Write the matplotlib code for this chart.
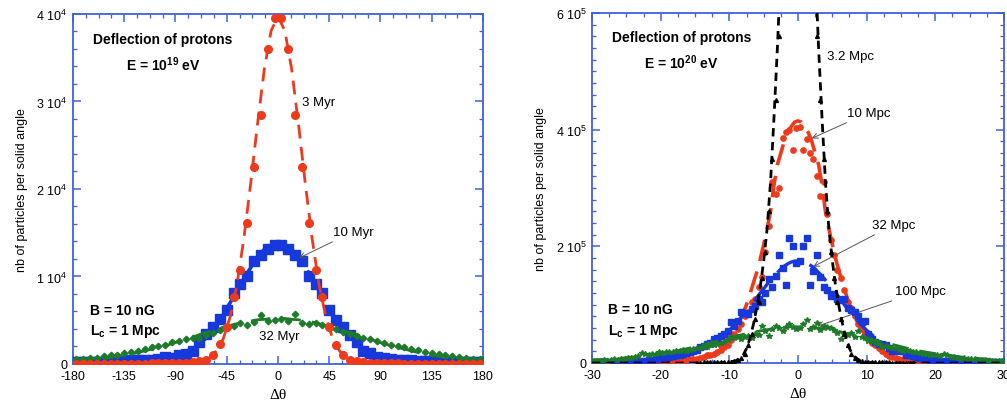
import numpy as np
import matplotlib
matplotlib.use("Agg")
import matplotlib.pyplot as plt
from matplotlib.ticker import MultipleLocator, FixedLocator, FixedFormatter

plt.rcParams['font.family'] = ['Liberation Sans', 'DejaVu Sans']
plt.rcParams['mathtext.fontset'] = 'custom'
plt.rcParams['mathtext.rm'] = 'Liberation Sans'
plt.rcParams['mathtext.bf'] = 'Liberation Sans:bold'
plt.rcParams['axes.unicode_minus'] = False

# ==========================================
# Left panel data: E = 1e19 eV, bins of 6 degrees (units of 1e4)
# ==========================================
bins_left = np.arange(-177, 180, 6)

red_3myr = [0, 0, 0, 0, 0, 0, 0, 0, 0, 0,
            0.005, 0.01, 0.01, 0.01, 0.01, 0.01, 0.01, 0.02, 0.03, 0.05,
            0.10, 0.23, 0.42, 0.77, 1.07, 1.61, 2.25, 2.84, 3.60, 3.95,
            3.95, 3.60, 2.84, 2.25, 1.61, 1.07, 0.77, 0.42, 0.22, 0.10,
            0.05, 0.03, 0.02, 0.01, 0.01, 0.01, 0.01, 0.01, 0.005, 0.005,
            0, 0, 0, 0, 0, 0, 0, 0, 0, 0]
blue_10myr = [0.02, 0.02, 0.02, 0.02, 0.02, 0.03, 0.03, 0.03, 0.04, 0.04,
              0.05, 0.05, 0.06, 0.08, 0.07, 0.10, 0.11, 0.15, 0.25, 0.34,
              0.42, 0.51, 0.62, 0.81, 0.91, 1.01, 1.18, 1.25, 1.31, 1.36,
              1.36, 1.31, 1.24, 1.18, 1.01, 0.91, 0.81, 0.62, 0.50, 0.42,
              0.33, 0.25, 0.15, 0.13, 0.08, 0.07, 0.06, 0.05, 0.04, 0.04,
              0.03, 0.03, 0.03, 0.02, 0.02, 0.02, 0.02, 0.02, 0.02, 0.02]
green_32myr = [0.06, 0.06, 0.07, 0.07, 0.09, 0.10, 0.10, 0.12, 0.14, 0.15,
               0.17, 0.19, 0.20, 0.22, 0.25, 0.26, 0.28, 0.30, 0.30, 0.33,
               0.35, 0.39, 0.41, 0.43, 0.47, 0.45, 0.48, 0.56, 0.49, 0.50,
               0.51, 0.49, 0.57, 0.47, 0.46, 0.47, 0.45, 0.42, 0.40, 0.37,
               0.34, 0.32, 0.30, 0.28, 0.26, 0.24, 0.22, 0.21, 0.19, 0.17,
               0.16, 0.14, 0.12, 0.11, 0.10, 0.09, 0.08, 0.07, 0.06, 0.06]

# fitted curves, half profile (symmetric)
fit_x_left = [0, 6, 12, 18, 24, 30, 36, 42, 48, 54, 60, 66, 72, 78, 84,
              96, 108, 120, 135, 150, 165, 180]
fit_red_left = [3.97, 3.81, 3.37, 2.74, 2.06, 1.43, 0.91, 0.54, 0.29, 0.15,
                0.07, 0.03, 0.01, 0.005, 0, 0, 0, 0, 0, 0, 0, 0]
fit_blue_left = [1.38, 1.36, 1.31, 1.22, 1.10, 0.98, 0.84, 0.70, 0.57, 0.45,
                 0.34, 0.26, 0.19, 0.13, 0.09, 0.04, 0.015, 0.005, 0, 0, 0, 0]
fit_green_left = [0.52, 0.52, 0.51, 0.505, 0.49, 0.48, 0.46, 0.44, 0.42, 0.40,
                  0.37, 0.35, 0.32, 0.30, 0.27, 0.22, 0.18, 0.14, 0.10, 0.067,
                  0.043, 0.027]

# ==========================================
# Right panel data: E = 1e20 eV, bins of 0.5 degree (units of 1e5)
# ==========================================
bins_green = np.arange(-29.75, 30, 0.5)
green_100mpc = [0.03, 0.04, 0.03, 0.05, 0.04, 0.05, 0.06, 0.05, 0.07, 0.06,
                0.08, 0.09, 0.10, 0.12, 0.17, 0.15, 0.13, 0.15, 0.16, 0.19,
                0.17, 0.18, 0.19, 0.18, 0.20, 0.21, 0.22, 0.21, 0.23, 0.24,
                0.25, 0.26, 0.27, 0.28, 0.30, 0.31, 0.33, 0.35, 0.36, 0.39,
                0.44, 0.42, 0.44, 0.41, 0.45, 0.47, 0.43, 0.50, 0.48, 0.64,
                0.55, 0.47, 0.58, 0.64, 0.60, 0.55, 0.62, 0.66, 0.62, 0.58,
                0.60, 0.66, 0.73, 0.58, 0.62, 0.68, 0.56, 0.64, 0.61, 0.60,
                0.57, 0.52, 0.41, 0.50, 0.48, 0.52, 0.45, 0.55, 0.45, 0.43,
                0.38, 0.37, 0.34, 0.32, 0.27, 0.29, 0.27, 0.26, 0.25, 0.23,
                0.21, 0.22, 0.20, 0.19, 0.18, 0.17, 0.16, 0.15, 0.14, 0.13,
                0.13, 0.12, 0.15, 0.14, 0.11, 0.10, 0.09, 0.07, 0.08, 0.07,
                0.06, 0.06, 0.05, 0.05, 0.05, 0.04, 0.04, 0.03, 0.04, 0.03]

bins_blue = np.arange(-29.75, 30, 0.5)
blue_32mpc = [0.01, 0.02, 0.01, 0.02, 0.02, 0.02, 0.02, 0.03, 0.02, 0.03,
              0.03, 0.03, 0.03, 0.04, 0.04, 0.04, 0.05, 0.05, 0.06, 0.07,
              0.08, 0.09, 0.10, 0.12, 0.13, 0.14, 0.15, 0.17, 0.19, 0.21,
              0.23, 0.27, 0.29, 0.33, 0.35, 0.41, 0.43, 0.47, 0.50, 0.55,
              0.70, 0.64, 0.72, 0.87, 0.86, 0.84, 0.93, 0.98, 1.10, 1.05,
              1.20, 1.44, 1.30, 1.49, 1.85, 1.62, 1.34, 2.14, 2.00, 1.72,
              1.74, 2.00, 2.14, 1.34, 1.58, 1.85, 1.47, 1.30, 1.25, 1.15,
              1.18, 1.10, 1.08, 1.10, 0.95, 0.90, 0.87, 0.80, 0.70, 0.72,
              0.50, 0.41, 0.36, 0.33, 0.33, 0.30, 0.25, 0.21, 0.23, 0.21,
              0.21, 0.13, 0.14, 0.12, 0.10, 0.08, 0.07, 0.06, 0.04, 0.05,
              0.04, 0.04, 0.03, 0.03, 0.03, 0.03, 0.02, 0.03, 0.02, 0.02,
              0.02, 0.02, 0.02, 0.02, 0.01, 0.02, 0.01, 0.01, 0.02, 0.01]

bins_red = np.arange(-24.75, 20, 0.5)
red_10mpc = [0.01, 0.01, 0.01, 0.01, 0.01, 0.02, 0.01, 0.02, 0.02, 0.02,
             0.02, 0.03, 0.03, 0.03, 0.04, 0.04, 0.05, 0.05, 0.06, 0.07,
             0.07, 0.09, 0.11, 0.13, 0.13, 0.16, 0.18, 0.22, 0.27, 0.30,
             0.40, 0.50, 0.58, 0.66, 0.80, 0.88, 1.05, 1.10, 1.30, 1.48,
             1.90, 2.35, 3.10, 2.90, 3.00, 3.85, 3.96, 4.00, 3.65, 4.02,
             4.05, 3.65, 3.84, 3.60, 3.50, 3.20, 2.87, 3.10, 2.55, 2.10,
             1.85, 1.60, 1.45, 1.25, 1.05, 0.95, 0.80, 0.66, 0.58, 0.50,
             0.42, 0.34, 0.30, 0.25, 0.20, 0.16, 0.12, 0.10, 0.08, 0.07,
             0.06, 0.05, 0.04, 0.03, 0.03, 0.02, 0.02, 0.02, 0.01, 0.01]

bins_black = np.arange(-14.75, 17, 0.5)
black_3mpc = [0.005, 0.005, 0.01, 0.01, 0.01, 0.01, 0.015, 0.01, 0.02, 0.02,
              0.02, 0.03, 0.05, 0.08, 0.15, 0.30, 0.50, 0.75, 1.05, 1.45,
              1.90, 2.60, 3.50, 4.50, 5.60, 7.00, 8.40, 9.80, 11.0, 11.8,
              11.8, 11.0, 9.80, 8.40, 7.00, 5.60, 4.50, 3.50, 2.60, 1.90,
              1.45, 1.05, 0.75, 0.50, 0.30, 0.15, 0.08, 0.05, 0.03, 0.02,
              0.02, 0.02, 0.015, 0.01, 0.01, 0.01, 0.01, 0.008, 0.006, 0.005,
              0.005, 0.004, 0.003, 0.003]

fit_x_right = [0, 0.5, 1, 1.5, 2, 2.5, 3, 3.5, 4, 4.5, 5, 5.5, 6, 6.5, 7, 7.5,
               8, 9, 10, 11, 12, 13, 14, 15, 16, 18, 20, 22, 24, 27, 30]
fit_black_right = [12.0, 11.6, 10.8, 9.6, 8.2, 6.8, 5.4, 4.2, 3.1, 2.3, 1.75,
                   1.3, 0.95, 0.66, 0.42, 0.25, 0.13, 0.04, 0.015, 0.005, 0, 0,
                   0, 0, 0, 0, 0, 0, 0, 0, 0]
fit_red_right = [4.15, 4.13, 4.05, 3.95, 3.80, 3.60, 3.40, 3.05, 2.60, 2.30,
                 2.03, 1.78, 1.56, 1.37, 1.18, 1.00, 0.85, 0.62, 0.45, 0.32,
                 0.22, 0.15, 0.09, 0.05, 0.03, 0.01, 0, 0, 0, 0, 0]
fit_blue_right = [1.75, 1.745, 1.73, 1.70, 1.66, 1.61, 1.55, 1.49, 1.42, 1.35,
                  1.27, 1.20, 1.12, 1.04, 0.96, 0.89, 0.82, 0.68, 0.56, 0.46,
                  0.38, 0.30, 0.24, 0.19, 0.15, 0.09, 0.06, 0.04, 0.03, 0.02,
                  0.01]
fit_green_right = [0.62, 0.62, 0.62, 0.615, 0.61, 0.60, 0.595, 0.59, 0.58,
                   0.57, 0.56, 0.55, 0.54, 0.525, 0.51, 0.50, 0.49, 0.46, 0.43,
                   0.40, 0.37, 0.34, 0.31, 0.28, 0.25, 0.20, 0.16, 0.13, 0.10,
                   0.07, 0.05]


def mirror(xh, yh):
    xh = np.asarray(xh, float)
    yh = np.asarray(yh, float)
    return np.concatenate([-xh[::-1], xh[1:]]), np.concatenate([yh[::-1], yh[1:]])


RED = '#ee3a1c'
BLUE = '#1738dc'
GREEN = '#1f7a2a'
AXBLUE = '#3f5fe0'

fig = plt.figure(figsize=(10.07, 4.10), dpi=100)
axL = fig.add_axes([0.0725, 0.1098, 0.4071, 0.8537])
axR = fig.add_axes([0.5879, 0.1122, 0.4091, 0.8537])


def style_axes(ax):
    for s in ax.spines.values():
        s.set_color(AXBLUE)
        s.set_linewidth(1.3)
    ax.tick_params(which='both', direction='in', top=True, right=True,
                   color=AXBLUE, labelsize=9, pad=4)
    ax.tick_params(which='major', length=6, width=1.1)
    ax.tick_params(which='minor', length=3, width=0.9)


# ---------------- Left panel ----------------
s1 = 1e4
x, y = mirror(fit_x_left, fit_blue_left)
axL.plot(x, np.array(y) * s1, color=BLUE, lw=2.6, ls=(0, (9, 3)), zorder=2)
axL.plot(bins_left, np.array(blue_10myr) * s1, 's', color=BLUE, ms=6.5, zorder=3)
x, y = mirror(fit_x_left, fit_green_left)
axL.plot(x, np.array(y) * s1, color=GREEN, lw=2.0, ls=(0, (7, 4)), zorder=4)
axL.plot(bins_left, np.array(green_32myr) * s1, 'D', color=GREEN, ms=3.3, zorder=5)
x, y = mirror(fit_x_left, fit_red_left)
axL.plot(x, np.array(y) * s1, color=RED, lw=2.0, ls=(0, (5, 3)), zorder=6)
axL.plot(bins_left, np.array(red_3myr) * s1, 'o', color=RED, ms=5.5, zorder=7)

axL.set_xlim(-180, 180)
axL.set_ylim(0, 4e4)
axL.xaxis.set_major_locator(MultipleLocator(45))
axL.xaxis.set_minor_locator(MultipleLocator(11.25))
axL.yaxis.set_major_locator(FixedLocator([0, 1e4, 2e4, 3e4, 4e4]))
axL.yaxis.set_major_formatter(FixedFormatter(['0', r'1 10$^{4}$', r'2 10$^{4}$',
                                              r'3 10$^{4}$', r'4 10$^{4}$']))
axL.yaxis.set_minor_locator(MultipleLocator(2000))
style_axes(axL)
axL.set_xlabel('\u0394\u03b8', family='Liberation Serif', fontsize=11, labelpad=5)
axL.set_ylabel('nb of particles per solid angle', fontsize=9, labelpad=6)

axL.text(-101, 3.71e4, 'Deflection of protons', ha='center', va='center',
         fontsize=10, fontweight='bold')
axL.text(-101, 3.43e4, r'E = 10$^{\mathbf{19}}$ eV', ha='center', va='center',
         fontsize=10, fontweight='bold')
axL.text(-165, 0.62e4, 'B = 10 nG', ha='left', va='center', fontsize=10,
         fontweight='bold')
axL.text(-165, 0.38e4, r'L$_{\mathbf{c}}$ = 1 Mpc', ha='left', va='center',
         fontsize=10, fontweight='bold')
axL.text(21, 2.99e4, '3 Myr', ha='left', va='center', fontsize=9.5)
axL.text(-17, 0.32e4, '32 Myr', ha='left', va='center', fontsize=9.5)
axL.annotate('10 Myr', xy=(18.4, 1.21e4), xytext=(48, 1.51e4), fontsize=9.5,
             ha='left', va='center',
             arrowprops=dict(arrowstyle='->', color='#555555', lw=0.7,
                             shrinkA=2, shrinkB=0))

# ---------------- Right panel ----------------
s2 = 1e5
x, y = mirror(fit_x_right, fit_red_right)
axR.plot(x, np.array(y) * s2, color=RED, lw=2.6, ls=(0, (6, 3)), zorder=2)
axR.plot(bins_red, np.array(red_10mpc) * s2, 'o', color=RED, ms=3.8, zorder=3)
x, y = mirror(fit_x_right, fit_blue_right)
axR.plot(x, np.array(y) * s2, color=BLUE, lw=2.4, ls=(0, (7, 4)), zorder=4)
axR.plot(bins_blue, np.array(blue_32mpc) * s2, 's', color=BLUE, ms=5, zorder=5)
x, y = mirror(fit_x_right, fit_green_right)
axR.plot(x, np.array(y) * s2, color=GREEN, lw=2.0, ls=(0, (6, 4)), zorder=6)
axR.plot(bins_green, np.array(green_100mpc) * s2, '*', color=GREEN, ms=3.8,
         zorder=7)
x, y = mirror(fit_x_right, fit_black_right)
axR.plot(x, np.array(y) * s2, color='black', lw=2.0, ls=(0, (3, 2)), zorder=8)
axR.plot(bins_black, np.array(black_3mpc) * s2, '^', color='black', ms=2.8,
         zorder=9)

axR.set_xlim(-30, 30)
axR.set_ylim(0, 6e5)
axR.xaxis.set_major_locator(MultipleLocator(10))
axR.xaxis.set_minor_locator(MultipleLocator(2.5))
axR.yaxis.set_major_locator(FixedLocator([0, 2e5, 4e5, 6e5]))
axR.yaxis.set_major_formatter(FixedFormatter(['0', r'2 10$^{5}$', r'4 10$^{5}$',
                                              r'6 10$^{5}$']))
axR.yaxis.set_minor_locator(MultipleLocator(2e4))
style_axes(axR)
axR.set_xlabel('\u0394\u03b8', family='Liberation Serif', fontsize=11, labelpad=5)
axR.set_ylabel('nb of particles per solid angle', fontsize=9, labelpad=6)

axR.text(-17, 5.59e5, 'Deflection of protons', ha='center', va='center',
         fontsize=10, fontweight='bold')
axR.text(-17, 5.17e5, r'E = 10$^{\mathbf{20}}$ eV', ha='center', va='center',
         fontsize=10, fontweight='bold')
axR.text(-27.7, 0.93e5, 'B = 10 nG', ha='left', va='center', fontsize=10,
         fontweight='bold')
axR.text(-27.7, 0.55e5, r'L$_{\mathbf{c}}$ = 1 Mpc', ha='left', va='center',
         fontsize=10, fontweight='bold')
axR.text(4.2, 5.27e5, '3.2 Mpc', ha='left', va='center', fontsize=9.5)
arrow = dict(arrowstyle='->', color='#555555', lw=0.7, shrinkA=2, shrinkB=0)
axR.annotate('10 Mpc', xy=(2.0, 3.85e5), xytext=(7.1, 4.29e5), fontsize=9.5,
             ha='left', va='center', arrowprops=arrow)
axR.annotate('32 Mpc', xy=(2.2, 1.65e5), xytext=(10.8, 2.37e5), fontsize=9.5,
             ha='left', va='center', arrowprops=arrow)
axR.annotate('100 Mpc', xy=(2.8, 0.63e5), xytext=(14.1, 1.23e5), fontsize=9.5,
             ha='left', va='center', arrowprops=arrow)

fig.savefig('out.png', dpi=100)
